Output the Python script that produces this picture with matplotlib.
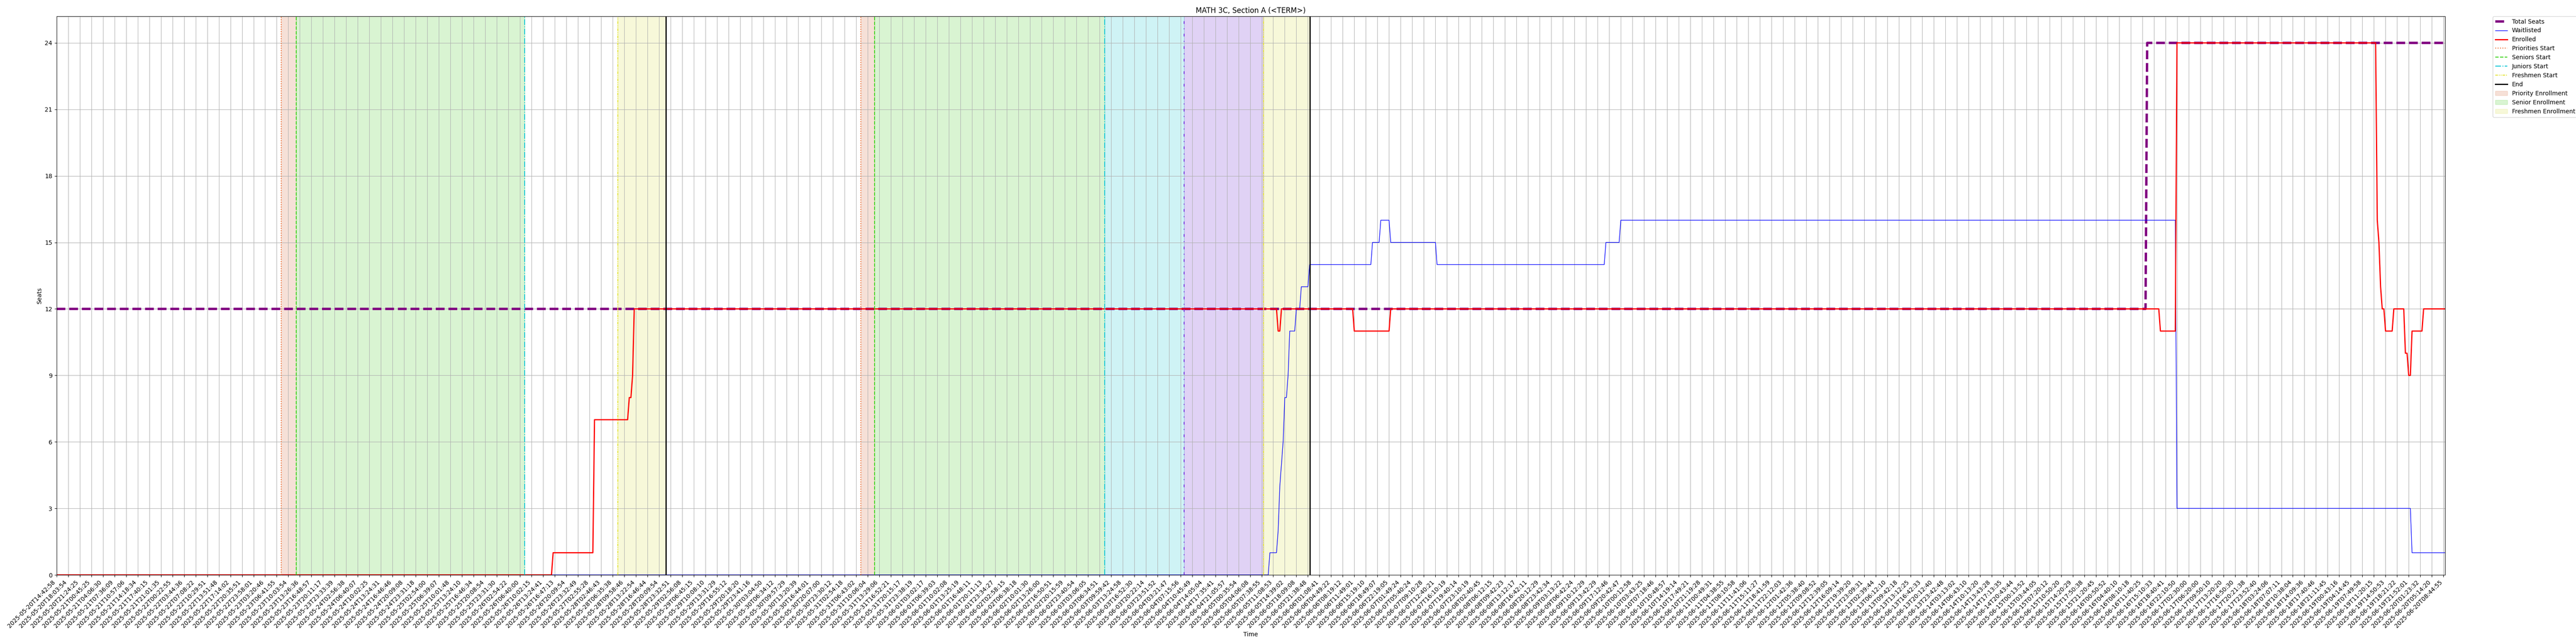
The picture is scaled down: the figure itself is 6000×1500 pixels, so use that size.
import matplotlib
matplotlib.use("Agg")
import numpy as np
import matplotlib.pyplot as plt

tick_labels = [
    "2025-05-20T14:42:58", "2025-05-20T18:03:54", "2025-05-20T21:24:25", "2025-05-21T00:45:25", "2025-05-21T04:06:30",
    "2025-05-21T07:36:09", "2025-05-21T10:57:06", "2025-05-21T14:18:34", "2025-05-21T17:40:15", "2025-05-21T21:01:35",
    "2025-05-22T00:22:55", "2025-05-22T03:44:36", "2025-05-22T07:08:22", "2025-05-22T10:29:51", "2025-05-22T13:51:48",
    "2025-05-22T17:14:02", "2025-05-22T20:35:51", "2025-05-22T23:58:01", "2025-05-23T03:20:46", "2025-05-23T06:41:55",
    "2025-05-23T10:03:54", "2025-05-23T13:26:36", "2025-05-23T16:48:57", "2025-05-23T20:11:17", "2025-05-23T23:33:39",
    "2025-05-24T02:56:38", "2025-05-24T06:40:07", "2025-05-24T10:02:25", "2025-05-24T13:24:31", "2025-05-24T16:46:46",
    "2025-05-24T20:09:08", "2025-05-24T23:31:18", "2025-05-25T02:54:00", "2025-05-25T06:39:07", "2025-05-25T10:01:48",
    "2025-05-25T13:24:10", "2025-05-25T16:46:34", "2025-05-25T20:08:54", "2025-05-25T23:31:30", "2025-05-26T02:54:22",
    "2025-05-26T06:40:00", "2025-05-26T10:02:15", "2025-05-26T13:24:41", "2025-05-26T16:47:13", "2025-05-26T20:09:54",
    "2025-05-26T23:32:49", "2025-05-27T02:55:28", "2025-05-28T02:46:43", "2025-05-28T06:35:38", "2025-05-28T09:58:46",
    "2025-05-28T13:22:54", "2025-05-28T16:46:44", "2025-05-28T20:09:54", "2025-05-28T23:32:51", "2025-05-29T02:56:08",
    "2025-05-29T06:45:15", "2025-05-29T10:08:10", "2025-05-29T13:31:29", "2025-05-29T16:55:12", "2025-05-29T20:18:20",
    "2025-05-29T23:41:16", "2025-05-30T03:04:50", "2025-05-30T06:34:12", "2025-05-30T09:57:29", "2025-05-30T13:20:39",
    "2025-05-30T16:44:01", "2025-05-30T20:07:00", "2025-05-30T23:30:12", "2025-05-31T02:54:18", "2025-05-31T06:43:02",
    "2025-05-31T10:06:04", "2025-05-31T13:29:06", "2025-05-31T16:52:21", "2025-05-31T20:15:17", "2025-05-31T23:38:19",
    "2025-06-01T03:02:17", "2025-06-01T06:39:03", "2025-06-01T10:02:08", "2025-06-01T13:25:19", "2025-06-01T16:48:11",
    "2025-06-01T20:11:13", "2025-06-01T23:34:27", "2025-06-02T02:58:15", "2025-06-02T06:38:18", "2025-06-02T10:01:30",
    "2025-06-02T13:26:00", "2025-06-02T16:50:51", "2025-06-02T20:15:59", "2025-06-02T23:40:54", "2025-06-03T03:06:05",
    "2025-06-03T06:34:51", "2025-06-03T09:59:42", "2025-06-03T13:24:58", "2025-06-03T16:52:30", "2025-06-03T20:22:14",
    "2025-06-03T23:51:52", "2025-06-04T03:21:47", "2025-06-04T07:15:56", "2025-06-04T10:45:49", "2025-06-04T14:05:04",
    "2025-06-04T17:35:41", "2025-06-04T21:05:57", "2025-06-05T00:35:54", "2025-06-05T04:06:08", "2025-06-05T07:38:55",
    "2025-06-05T11:08:53", "2025-06-05T14:39:02", "2025-06-05T18:09:08", "2025-06-05T21:38:48", "2025-06-06T01:08:41",
    "2025-06-06T04:49:22", "2025-06-06T08:19:12", "2025-06-06T11:49:01", "2025-06-06T15:19:10", "2025-06-06T18:49:07",
    "2025-06-06T22:19:05", "2025-06-07T01:49:24", "2025-06-07T05:40:24", "2025-06-07T09:10:28", "2025-06-07T12:40:21",
    "2025-06-07T16:10:19", "2025-06-07T19:40:14", "2025-06-07T23:10:19", "2025-06-08T02:40:45", "2025-06-08T06:12:15",
    "2025-06-08T09:42:23", "2025-06-08T13:12:17", "2025-06-08T16:42:11", "2025-06-08T20:12:29", "2025-06-08T23:42:34",
    "2025-06-09T03:13:22", "2025-06-09T06:42:24", "2025-06-09T10:12:29", "2025-06-09T13:42:29", "2025-06-09T17:12:46",
    "2025-06-09T20:42:47", "2025-06-10T00:12:58", "2025-06-10T03:43:25", "2025-06-10T07:18:46", "2025-06-10T10:48:57",
    "2025-06-10T14:19:14", "2025-06-10T17:49:21", "2025-06-10T21:19:28", "2025-06-11T00:49:31", "2025-06-11T04:38:55",
    "2025-06-11T08:10:58", "2025-06-11T11:41:06", "2025-06-11T15:11:27", "2025-06-11T18:41:59", "2025-06-11T22:12:03",
    "2025-06-12T01:42:36", "2025-06-12T05:38:40", "2025-06-12T09:08:52", "2025-06-12T12:39:05", "2025-06-12T16:09:14",
    "2025-06-12T19:39:20", "2025-06-12T23:09:31", "2025-06-13T02:39:44", "2025-06-13T06:12:10", "2025-06-13T09:42:18",
    "2025-06-13T13:12:25", "2025-06-13T16:42:33", "2025-06-13T20:12:40", "2025-06-13T23:42:48", "2025-06-14T03:13:02",
    "2025-06-14T06:43:10", "2025-06-14T10:13:20", "2025-06-14T13:43:28", "2025-06-14T17:13:35", "2025-06-14T20:43:44",
    "2025-06-15T00:13:52", "2025-06-15T03:44:05", "2025-06-15T07:20:12", "2025-06-15T10:50:20", "2025-06-15T14:20:29",
    "2025-06-15T17:50:38", "2025-06-15T21:20:45", "2025-06-16T00:50:52", "2025-06-16T04:40:10", "2025-06-16T08:10:18",
    "2025-06-16T11:40:25", "2025-06-16T15:10:33", "2025-06-16T18:40:41", "2025-06-16T22:10:50", "2025-06-17T02:30:00",
    "2025-06-17T06:20:00", "2025-06-17T09:50:10", "2025-06-17T13:20:20", "2025-06-17T16:50:30", "2025-06-17T20:21:38",
    "2025-06-17T23:52:40", "2025-06-18T03:24:06", "2025-06-18T07:07:11", "2025-06-18T10:38:04", "2025-06-18T14:09:36",
    "2025-06-18T17:40:46", "2025-06-18T21:11:45", "2025-06-19T00:43:16", "2025-06-19T04:14:45", "2025-06-19T07:49:58",
    "2025-06-19T11:20:15", "2025-06-19T14:50:53", "2025-06-19T18:21:22", "2025-06-19T21:52:01", "2025-06-20T01:23:32",
    "2025-06-20T05:14:20", "2025-06-20T08:44:55",
]

# sample index, seats (only where the line bends)
seats_x = [0, 1262, 1263, 1443]
seats_y = [12, 12, 24, 24]
wait_x = [0, 732, 733, 737, 738, 739, 740, 741, 742, 743, 744, 745, 748, 749, 751, 752, 756, 757,
          794, 795, 799, 800, 805, 806, 833, 834, 935, 936, 944, 945, 1280, 1281, 1422, 1423, 1443]
wait_y = [0, 0, 1, 1, 2, 4, 5, 6, 8, 8, 9, 11, 11, 12, 12, 13, 13, 14,
          14, 15, 15, 16, 16, 15, 15, 14, 14, 15, 15, 16, 16, 3, 3, 1, 1]
enrolled_x = [0, 299, 300, 324, 325, 345, 346, 347, 348, 349, 737, 738, 739, 740, 783, 784, 805, 806,
              1270, 1271, 1280, 1281, 1401, 1402, 1403, 1404, 1405, 1406, 1407, 1411, 1412, 1418, 1419, 1420, 1421, 1422,
              1423, 1429, 1430, 1443]
enrolled_y = [0, 0, 1, 1, 7, 7, 8, 8, 9, 12, 12, 11, 11, 12, 12, 11, 11, 12,
              12, 11, 11, 24, 24, 16, 15, 13, 12, 12, 11, 11, 12, 12, 10, 10, 9, 9,
              11, 11, 12, 12]

priority_start = [135.8, 486.0]
senior_start = [144.9, 494.1]
junior_start = [282.8, 633.1]
sophomore_start = [681.2]
freshmen_start = [339.0, 729.1]
end_times = [368.0, 757.2]

fig, ax = plt.subplots(figsize=(60, 15), dpi=100)
fig.subplots_adjust(left=0.02195, right=0.9492, top=0.9747, bottom=0.1073)

ax.plot(seats_x, seats_y, color="purple", linestyle="--", linewidth=4, label="Total Seats")
ax.plot(wait_x, wait_y, color="blue", linewidth=1, label="Waitlisted")
ax.plot(enrolled_x, enrolled_y, color="red", linewidth=2, label="Enrolled")

prio_c = "#ee6b2f"
sen_c = "#3fd41f"
jun_c = "#17c8d6"
sop_c = "#7a2fe0"
fre_c = "#e4e43a"

ax.axvline(priority_start[0], color=prio_c, linestyle=":", linewidth=1.5, label="Priorities Start")
ax.axvline(senior_start[0], color=sen_c, linestyle="--", linewidth=1.5, label="Seniors Start")
ax.axvline(junior_start[0], color=jun_c, linestyle="-.", linewidth=1.5, label="Juniors Start")
ax.axvline(freshmen_start[0], color=fre_c, linestyle=(0, (3, 1, 1, 1, 1, 1)), linewidth=1.5, label="Freshmen Start")
ax.axvline(end_times[0], color="black", linewidth=2, label="End")
ax.axvspan(priority_start[0], senior_start[0], color="#d26437", alpha=0.2, label="Priority Enrollment")
ax.axvspan(senior_start[0], junior_start[0], color="#41c81e", alpha=0.2, label="Senior Enrollment")
ax.axvspan(freshmen_start[0], end_times[0], color="#d7dc41", alpha=0.2, label="Freshmen Enrollment")

# second window, not in the legend
ax.axvline(priority_start[1], color=prio_c, linestyle=":", linewidth=1.5)
ax.axvline(senior_start[1], color=sen_c, linestyle="--", linewidth=1.5)
ax.axvline(junior_start[1], color=jun_c, linestyle="-.", linewidth=1.5)
ax.axvline(sophomore_start[0], color=sop_c, linestyle=(0, (3, 5, 1, 5)), linewidth=1.5)
ax.axvline(freshmen_start[1], color=fre_c, linestyle=(0, (3, 1, 1, 1, 1, 1)), linewidth=1.5)
ax.axvline(end_times[1], color="black", linewidth=2)
ax.axvspan(priority_start[1], senior_start[1], color="#d26437", alpha=0.2)
ax.axvspan(senior_start[1], junior_start[1], color="#41c81e", alpha=0.2)
ax.axvspan(junior_start[1], sophomore_start[0], color="#0fc3cd", alpha=0.2)
ax.axvspan(sophomore_start[0], freshmen_start[1], color="#641ecd", alpha=0.2)
ax.axvspan(freshmen_start[1], end_times[1], color="#d7dc41", alpha=0.2)

ax.set_xticks(np.arange(len(tick_labels)) * 7)
ax.set_xticklabels(tick_labels, rotation=45, ha="right")
ax.set_yticks(range(0, 25, 3))
ax.set_xlim(0, 1443)
ax.set_ylim(0, 25.2)
ax.grid(True)
ax.set_title("MATH 3C, Section A (<TERM>)")
ax.set_xlabel("Time")
ax.set_ylabel("Seats")
ax.legend(loc="upper left", bbox_to_anchor=(1.02, 1), borderaxespad=0)

fig.savefig("out.png")
